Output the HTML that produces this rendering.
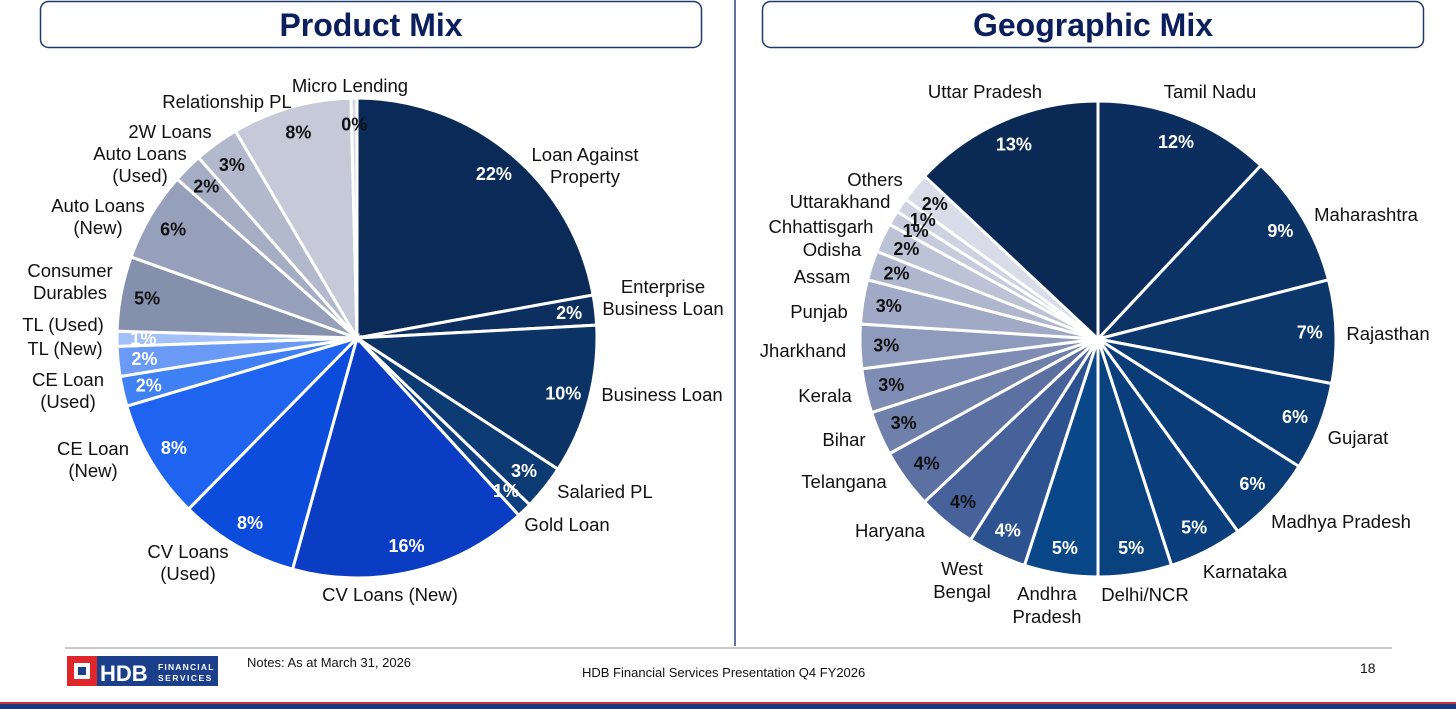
<!DOCTYPE html>
<html><head><meta charset="utf-8"><style>
body{margin:0;width:1456px;height:709px;overflow:hidden;background:#fff;font-family:"Liberation Sans",sans-serif;}
svg{position:absolute;left:0;top:0}
</style></head><body>
<svg width="1456" height="709" id="s">
<rect x="40.5" y="1.5" width="661" height="46" rx="8" fill="#fff" stroke="#1f3a6e" stroke-width="1.5"/>
<text x="371" y="36" text-anchor="middle" font-size="32" font-weight="bold" fill="#0b1f5c">Product Mix</text>
<rect x="762.5" y="1.5" width="661" height="46" rx="8" fill="#fff" stroke="#1f3a6e" stroke-width="1.5"/>
<text x="1093" y="36" text-anchor="middle" font-size="32" font-weight="bold" fill="#0b1f5c">Geographic Mix</text>
<line x1="735" y1="0" x2="735" y2="646" stroke="#2a4a80" stroke-width="1.5"/>
<line x1="65" y1="648" x2="1392" y2="648" stroke="#c8c8c8" stroke-width="2"/>
<g id="pie1"></g>
<g id="pie2"></g>
<g font-size="18.5" fill="#111" id="labels1">
<text x="350" y="92" text-anchor="middle">Micro Lending</text>
<text x="227" y="108" text-anchor="middle">Relationship PL</text>
<text x="170" y="138" text-anchor="middle">2W Loans</text>
<text x="140" y="160" text-anchor="middle">Auto Loans</text>
<text x="140" y="182" text-anchor="middle">(Used)</text>
<text x="98" y="212" text-anchor="middle">Auto Loans</text>
<text x="98" y="234" text-anchor="middle">(New)</text>
<text x="70" y="277" text-anchor="middle">Consumer</text>
<text x="70" y="299" text-anchor="middle">Durables</text>
<text x="63" y="331" text-anchor="middle">TL (Used)</text>
<text x="65" y="355" text-anchor="middle">TL (New)</text>
<text x="68" y="386" text-anchor="middle">CE Loan</text>
<text x="68" y="408" text-anchor="middle">(Used)</text>
<text x="93" y="455" text-anchor="middle">CE Loan</text>
<text x="93" y="477" text-anchor="middle">(New)</text>
<text x="188" y="558" text-anchor="middle">CV Loans</text>
<text x="188" y="580" text-anchor="middle">(Used)</text>
<text x="390" y="601" text-anchor="middle">CV Loans (New)</text>
<text x="567" y="531" text-anchor="middle">Gold Loan</text>
<text x="605" y="498" text-anchor="middle">Salaried PL</text>
<text x="662" y="401" text-anchor="middle">Business Loan</text>
<text x="663" y="293" text-anchor="middle">Enterprise</text>
<text x="663" y="315" text-anchor="middle">Business Loan</text>
<text x="585" y="161" text-anchor="middle">Loan Against</text>
<text x="585" y="183" text-anchor="middle">Property</text>
</g>
<g font-size="18.5" fill="#111" id="labels2">
<text x="985" y="98" text-anchor="middle">Uttar Pradesh</text>
<text x="1210" y="98" text-anchor="middle">Tamil Nadu</text>
<text x="1366" y="221" text-anchor="middle">Maharashtra</text>
<text x="1388" y="340" text-anchor="middle">Rajasthan</text>
<text x="1358" y="444" text-anchor="middle">Gujarat</text>
<text x="1341" y="528" text-anchor="middle">Madhya Pradesh</text>
<text x="1245" y="578" text-anchor="middle">Karnataka</text>
<text x="1145" y="601" text-anchor="middle">Delhi/NCR</text>
<text x="1047" y="600" text-anchor="middle">Andhra</text>
<text x="1047" y="623" text-anchor="middle">Pradesh</text>
<text x="962" y="575" text-anchor="middle">West</text>
<text x="962" y="598" text-anchor="middle">Bengal</text>
<text x="890" y="537" text-anchor="middle">Haryana</text>
<text x="844" y="488" text-anchor="middle">Telangana</text>
<text x="844" y="446" text-anchor="middle">Bihar</text>
<text x="825" y="402" text-anchor="middle">Kerala</text>
<text x="803" y="357" text-anchor="middle">Jharkhand</text>
<text x="819" y="318" text-anchor="middle">Punjab</text>
<text x="822" y="283" text-anchor="middle">Assam</text>
<text x="832" y="256" text-anchor="middle">Odisha</text>
<text x="821" y="233" text-anchor="middle">Chhattisgarh</text>
<text x="840" y="208" text-anchor="middle">Uttarakhand</text>
<text x="875" y="186" text-anchor="middle">Others</text>
</g>
<g>
<rect x="67" y="656" width="151" height="30" fill="#1c3f8c"/>
<rect x="67" y="656" width="30" height="30" fill="#e0262b"/>
<rect x="74" y="663" width="16" height="16" fill="#fff"/>
<rect x="78" y="667" width="8" height="8" fill="#1c3f8c"/>
<text x="100" y="681" font-size="22" font-weight="bold" fill="#fff">HDB</text>
<text x="158" y="670" font-size="8.5" font-weight="bold" fill="#fff" letter-spacing="1.2">FINANCIAL</text>
<text x="158" y="681" font-size="8.5" font-weight="bold" fill="#fff" letter-spacing="1.5">SERVICES</text>
</g>
<text x="247" y="667" font-size="13" fill="#111">Notes: As at March 31, 2026</text>
<text x="582" y="677" font-size="13" fill="#111">HDB Financial Services Presentation Q4 FY2026</text>
<text x="1360" y="673" font-size="14" fill="#111">18</text>
<rect x="0" y="702" width="1456" height="2" fill="#d0303a"/>
<rect x="0" y="704" width="1456" height="5" fill="#1a3a80"/>
</svg>
<script>
const productCategories=["Loan Against Property","Enterprise Business Loan","Business Loan","Salaried PL","Gold Loan","CV Loans (New)","CV Loans (Used)","CE Loan (New)","CE Loan (Used)","TL (New)","TL (Used)","Consumer Durables","Auto Loans (New)","Auto Loans (Used)","2W Loans","Relationship PL","Micro Lending"];
const productValues=[22,2,10,3,1,16,8,8,2,2,1,5,6,2,3,8,0.4];
const productLabels=["22%","2%","10%","3%","1%","16%","8%","8%","2%","2%","1%","5%","6%","2%","3%","8%","0%"];
const productColors=["#0a2a58","#0c2f60","#0b3366","#0c3a72","#0d3f80","#0a3cc4","#0b4cdc","#1e64f0","#3f80f5","#6a9af5","#a3c0f8","#8590ad","#97a0ba","#a5adc4","#b3b9cc","#c5c9d8","#d8dae2"];
const productText=["#fff","#fff","#fff","#fff","#fff","#fff","#fff","#fff","#fff","#fff","#fff","#111","#111","#111","#111","#111","#111"];
const geoCategories=["Tamil Nadu","Maharashtra","Rajasthan","Gujarat","Madhya Pradesh","Karnataka","Delhi/NCR","Andhra Pradesh","West Bengal","Haryana","Telangana","Bihar","Kerala","Jharkhand","Punjab","Assam","Odisha","Chhattisgarh","Uttarakhand","Others","Uttar Pradesh"];
const geoValues=[12,9,7,6,6,5,5,5,4,4,4,3,3,3,3,2,2,1,1,2,13];
const geoLabels=["12%","9%","7%","6%","6%","5%","5%","5%","4%","4%","4%","3%","3%","3%","3%","2%","2%","1%","1%","2%","13%"];
const geoColors=["#0b2e5e","#0b3366","#0b376c","#0a3a74","#0a3c78","#0a3e7c","#0a4280","#0a4788","#2c5390","#47619a","#5d70a2","#6f80ab","#7f8db4","#8f9bbd","#a0aac7","#afb7cf","#bcc3d7","#c5cbdc","#ced3e2","#d8dce8","#0a2a55"];
const geoText=["#fff","#fff","#fff","#fff","#fff","#fff","#fff","#fff","#fff","#111","#111","#111","#111","#111","#111","#111","#111","#111","#111","#111","#fff"];
const NS="http://www.w3.org/2000/svg";
function drawPie(gid,cats,vals,labs,cols,tcols,cx,cy,R,nm){
  const g=document.getElementById(gid);
  const tot=vals.reduce((a,b)=>a+b,0);
  let a0=0;
  vals.forEach((v,i)=>{
    const a1=a0+v/tot*Math.PI*2;
    const p=(a)=>[cx+R*Math.sin(a),cy-R*Math.cos(a)];
    const [x0,y0]=p(a0),[x1,y1]=p(a1);
    const path=document.createElementNS(NS,"path");
    path.setAttribute("d",`M${cx},${cy}L${x0},${y0}A${R},${R} 0 ${a1-a0>Math.PI?1:0} 1 ${x1},${y1}Z`);
    path.setAttribute("fill",cols[i]);path.setAttribute("stroke","#fff");path.setAttribute("stroke-width","3");
    
    
    g.appendChild(path);
    a0=a1;
  });
  a0=0;
  vals.forEach((v,i)=>{
    const a1=a0+v/tot*Math.PI*2,m=(a0+a1)/2;
    const t=document.createElementNS(NS,"text");
    t.setAttribute("x",cx+R*0.89*Math.sin(m));t.setAttribute("y",cy-R*0.89*Math.cos(m)+6);
    t.setAttribute("text-anchor","middle");t.setAttribute("font-size","18");t.setAttribute("font-weight","bold");
    t.setAttribute("fill",tcols[i]);t.textContent=labs[i];
    
    
    g.appendChild(t);
    a0=a1;
  });
}
drawPie("pie1",productCategories,productValues,productLabels,productColors,productText,357,338,240,"product");
drawPie("pie2",geoCategories,geoValues,geoLabels,geoColors,geoText,1098,339,238,"geo");
</script>
</body></html>
